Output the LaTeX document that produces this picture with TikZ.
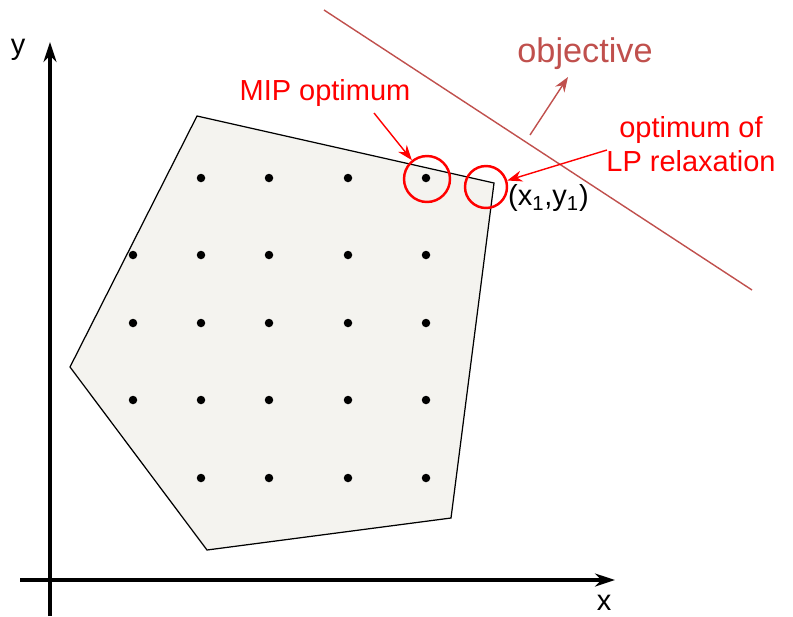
\documentclass[tikz,border=0pt]{standalone}
\usepackage{fontspec}
\setmainfont{Liberation Sans}
\usetikzlibrary{arrows.meta}
\definecolor{objred}{RGB}{192,80,77}
\definecolor{region}{RGB}{244,243,239}

\begin{document}
\begin{tikzpicture}[
  x=0.02cm, y=-0.02cm,
  dot/.style={circle, fill=black, inner sep=0pt, minimum size=1.7mm},
  mark circle/.style={circle, draw=red, line width=1.4pt, inner sep=0pt},
  label text/.style={font=\fontsize{16.5}{19.5}\selectfont, inner sep=1pt},
  red arrow/.style={draw=red, line width=0.8pt, -{Stealth[length=3mm, width=2.2mm]}}
]
\useasboundingbox (0,0) rectangle (793,616);

% Feasible region
\coordinate (top) at (197,116);
\coordinate (right) at (494,183);
\coordinate (lowright) at (451,518);
\coordinate (bottom) at (207,550);
\coordinate (left) at (70,367);
\draw[fill=region, line width=0.7pt] (top) -- (right) -- (lowright) -- (bottom) -- (left) -- cycle;

% Axes
\coordinate (ytip) at (50,42);
\coordinate (xtip) at (615,580);
\draw[line width=1.8pt, -{Stealth[length=4mm, width=2.6mm]}] (50,616) -- (ytip);
\draw[line width=1.8pt, -{Stealth[length=4mm, width=2.6mm]}] (20,580) -- (xtip);
\node[label text] (ylab) at (18,50) {y};
\node[label text] (xlab) at (604,603) {x};

% Integer points
\foreach \y in {255,323,400}
  \foreach \x in {133,201,269,348,426}
    \node[dot] at (\x,\y) {};
\foreach \y in {178,478}
  \foreach \x in {201,269,348,426}
    \node[dot] at (\x,\y) {};

% Objective
\coordinate (objA) at (324,10);
\coordinate (objB) at (752,290);
\draw[objred, line width=0.8pt] (objA) -- (objB);
\coordinate (dirA) at (530,135);
\node[label text, text=objred, font=\fontsize{19.5}{22}\selectfont] (objective) at (585,54) {objective};
\draw[objred, line width=0.8pt, -{Stealth[length=3mm, width=2.2mm]}] (dirA) -- (568,77);

% Optima
\node[mark circle, minimum size=9.2mm] (mip) at (427,179) {};
\node[mark circle, minimum size=8.4mm] (lp) at (486,187) {};
\node[label text, text=red] (miplab) at (325,93) {MIP optimum};
\node[label text, text=red, align=center] (lplab) at (691,144) {optimum of\\LP relaxation};
\node[label text, anchor=west] (pt) at (506,198) {(x\textsubscript{1},y\textsubscript{1})};
\draw[red arrow] (374,113) -- (mip);
\draw[red arrow] (607,150) -- (lp);

\end{tikzpicture}
\end{document}
